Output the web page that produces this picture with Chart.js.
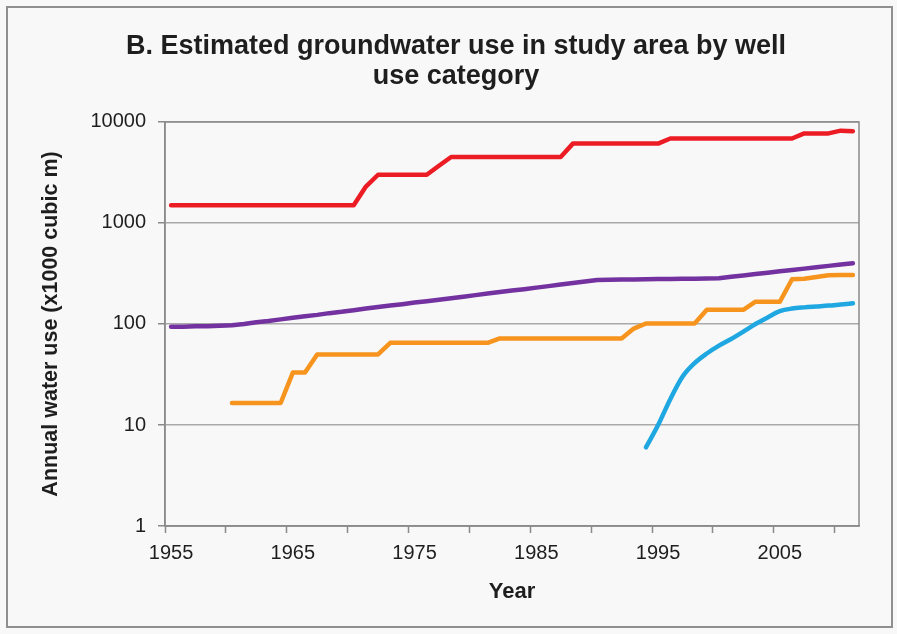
<!DOCTYPE html>
<html>
<head>
<meta charset="utf-8">
<title>Estimated groundwater use</title>
<script src="https://cdn.jsdelivr.net/npm/chart.js@4.4.1/dist/chart.umd.min.js"></script>
<style>
  html, body { margin: 0; padding: 0; background: #ffffff; }
  #wrap { width: 897px; height: 634px; }
</style>
</head>
<body>
<div id="wrap"><canvas id="c" width="897" height="634"></canvas></div>
<script>
// Years on the x axis (one point per year)
const years = [
  1955, 1956, 1957, 1958, 1959, 1960, 1961, 1962, 1963, 1964,
  1965, 1966, 1967, 1968, 1969, 1970, 1971, 1972, 1973, 1974,
  1975, 1976, 1977, 1978, 1979, 1980, 1981, 1982, 1983, 1984,
  1985, 1986, 1987, 1988, 1989, 1990, 1991, 1992, 1993, 1994,
  1995, 1996, 1997, 1998, 1999, 2000, 2001, 2002, 2003, 2004,
  2005, 2006, 2007, 2008, 2009, 2010, 2011
];

// Annual water use (x1000 cubic m), one value per year; null = no wells yet
const redUse = [
  1500, 1500, 1500, 1500, 1500, 1500, 1500, 1500, 1500, 1500,
  1500, 1500, 1500, 1500, 1500, 1500, 2290, 3000, 3000, 3000,
  3000, 3000, 3680, 4500, 4500, 4500, 4500, 4500, 4500, 4500,
  4500, 4500, 4500, 6100, 6100, 6100, 6100, 6100, 6100, 6100,
  6100, 6850, 6850, 6850, 6850, 6850, 6850, 6850, 6850, 6850,
  6850, 6850, 7700, 7700, 7700, 8200, 8100
];

const purpleUse = [
  94, 94, 95, 95, 96, 97, 100, 104, 107, 111,
  115, 119, 123, 128, 132, 137, 142, 147, 152, 157,
  163, 168, 174, 180, 186, 193, 200, 207, 214, 221,
  229, 237, 246, 254, 263, 273, 274, 275, 276, 277,
  278, 279, 280, 281, 282, 284, 293, 302, 312, 322,
  332, 342, 353, 364, 376, 388, 400
];

const orangeUse = [
  null, null, null, null, null, 16.5, 16.5, 16.5, 16.5, 16.5,
  33, 33, 50, 50, 50, 50, 50, 50, 65, 65,
  65, 65, 65, 65, 65, 65, 65, 72, 72, 72,
  72, 72, 72, 72, 72, 72, 72, 72, 90, 101,
  101, 101, 101, 101, 138, 138, 138, 138, 166, 166,
  166, 277, 280, 292, 303, 305, 305
];

const blueUse = [
  null, null, null, null, null, null, null, null, null, null,
  null, null, null, null, null, null, null, null, null, null,
  null, null, null, null, null, null, null, null, null, null,
  null, null, null, null, null, null, null, null, null, 6,
  10, 18, 30, 41, 51, 61, 71, 84, 100, 116,
  134, 142, 146, 149, 152, 156, 160
];

// Axis ticks
const yTickValues = [1, 10, 100, 1000, 10000];
const xLabelYears = [1955, 1965, 1975, 1985, 1995, 2005];
const xTickMarks = [1954.5, 1959.5, 1964.5, 1969.5, 1974.5, 1979.5, 1984.5, 1989.5, 1994.5, 1999.5, 2004.5, 2009.5];

const FONT = "'Liberation Sans', Arial, Helvetica, sans-serif";
const TEXT = '#1e1e1e';
const AXIS = '#8a8a8a';
const GRID = '#a9a9a9';

function toPoints(values) {
  return years.map((yr, i) => ({ x: yr, y: values[i] }));
}

// Paints the page background, the outer frame and the plot-area border
const framePlugin = {
  id: 'framePlugin',
  beforeDraw(chart) {
    const { ctx, width, height } = chart;
    ctx.save();
    ctx.fillStyle = '#f8f8f8';
    ctx.fillRect(0, 0, width, height);
    ctx.strokeStyle = '#8f8f8f';
    ctx.lineWidth = 2;
    ctx.strokeRect(7, 7, width - 12, height - 14);
    ctx.restore();
  },
  beforeDatasetsDraw(chart) {
    const { ctx, chartArea: a } = chart;
    ctx.save();
    ctx.strokeStyle = AXIS;
    ctx.lineWidth = 1.5;
    ctx.strokeRect(a.left, a.top, a.right - a.left, a.bottom - a.top);
    ctx.restore();
  }
};

const lineStyle = (color) => ({
  borderColor: color,
  backgroundColor: color,
  borderWidth: 4.5,
  pointRadius: 0,
  fill: false,
  spanGaps: false,
  borderJoinStyle: 'round',
  borderCapStyle: 'round'
});

new Chart(document.getElementById('c'), {
  type: 'line',
  data: {
    datasets: [
      Object.assign({ label: 'Category 1', data: toPoints(redUse) }, lineStyle('#ec1c24')),
      Object.assign({ label: 'Category 2', data: toPoints(purpleUse) }, lineStyle('#7332a0')),
      Object.assign({ label: 'Category 3', data: toPoints(orangeUse) }, lineStyle('#f7941e')),
      Object.assign({ label: 'Category 4', data: toPoints(blueUse), cubicInterpolationMode: 'monotone' }, lineStyle('#1ea7e1'))
    ]
  },
  options: {
    responsive: false,
    animation: false,
    devicePixelRatio: 1,
    layout: { padding: { left: 15, right: 0, top: 0, bottom: 0 } },
    plugins: {
      legend: { display: false },
      tooltip: { enabled: false },
      title: {
        display: true,
        text: ['B. Estimated groundwater use in study area by well', 'use category'],
        color: TEXT,
        font: { family: FONT, size: 27, weight: 'bold', lineHeight: 1.11 },
        padding: { top: 32, bottom: 30 }
      }
    },
    scales: {
      x: {
        type: 'linear',
        min: 1954.5,
        max: 2011.5,
        afterBuildTicks(scale) {
          const vals = xTickMarks.concat(xLabelYears).sort((a, b) => a - b);
          scale.ticks = vals.map(v => ({ value: v }));
        },
        afterFit(scale) { scale.height = 108; },
        ticks: {
          autoSkip: false,
          maxRotation: 0,
          padding: 8,
          color: TEXT,
          font: { family: FONT, size: 20 },
          callback: (v) => (xLabelYears.includes(v) ? String(v) : '')
        },
        grid: {
          drawOnChartArea: false,
          drawTicks: true,
          tickLength: 7,
          tickWidth: 1.5,
          tickColor: (ctx) => (ctx.tick && xLabelYears.includes(ctx.tick.value) ? 'rgba(0,0,0,0)' : AXIS)
        },
        border: { display: true, color: AXIS, width: 1.5 },
        title: {
          display: true,
          text: 'Year',
          color: TEXT,
          font: { family: FONT, size: 22, weight: 'bold' },
          padding: { top: 0, bottom: 29 }
        }
      },
      y: {
        type: 'logarithmic',
        min: 1,
        max: 10000,
        afterBuildTicks(scale) {
          scale.ticks = yTickValues.map(v => ({ value: v, major: true }));
        },
        afterFit(scale) { scale.width = 150; },
        ticks: {
          padding: 12,
          color: TEXT,
          font: { family: FONT, size: 20 },
          callback: (v) => String(v)
        },
        grid: {
          color: GRID,
          lineWidth: 1.5,
          drawTicks: true,
          tickLength: 7,
          tickColor: AXIS
        },
        border: { display: true, color: AXIS, width: 1.5 },
        title: {
          display: true,
          text: 'Annual water use (x1000 cubic m)',
          color: TEXT,
          font: { family: FONT, size: 21.5, weight: 'bold' },
          padding: { top: 23, bottom: 0 }
        }
      },
      yRight: {
        type: 'linear',
        position: 'right',
        display: true,
        afterFit(scale) { scale.width = 38; },
        ticks: { display: false },
        grid: { display: false },
        border: { display: false }
      }
    }
  },
  plugins: [framePlugin]
});
</script>
</body>
</html>
